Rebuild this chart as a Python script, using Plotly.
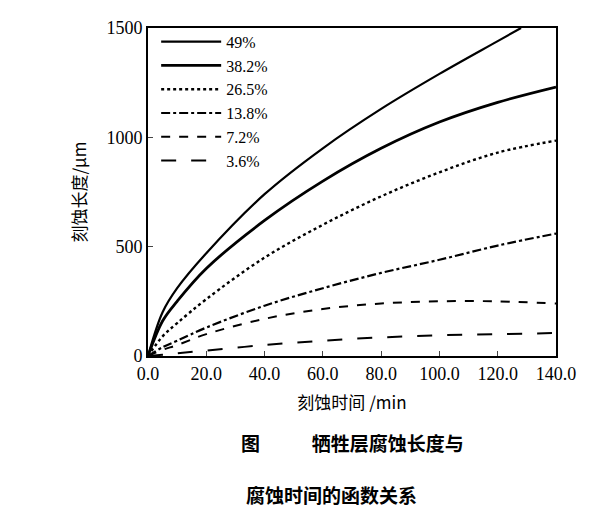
import plotly.graph_objects as go

# 刻蚀时间 (min) and 刻蚀长度 (um)
t = [0, 5, 10, 20, 40, 60, 80, 100, 120, 140]
t49 = [0, 5, 10, 20, 40, 60, 80, 100, 120, 128]
len_49 = [0, 200, 310, 470, 740, 950, 1130, 1290, 1440, 1500]
len_382 = [0, 160, 250, 400, 620, 800, 950, 1070, 1160, 1230]
len_265 = [0, 90, 150, 260, 450, 600, 730, 840, 930, 985]
len_138 = [0, 40, 70, 130, 230, 310, 380, 440, 505, 560]
len_72 = [0, 28, 50, 100, 170, 215, 240, 250, 250, 240]
len_36 = [0, 6, 12, 25, 50, 70, 85, 95, 100, 105]

series = [
    ("49%", t49, len_49, "solid", 2.2),
    ("38.2%", t, len_382, "solid", 2.8),
    ("26.5%", t, len_265, "dot", 2.4),
    ("13.8%", t, len_138, "dashdot", 2.2),
    ("7.2%", t, len_72, "dash", 2),
    ("3.6%", t, len_36, "longdash", 2),
]

fig = go.Figure()
for name, x, y, dash, w in series:
    fig.add_trace(go.Scatter(x=x, y=y, name=name, mode="lines", line_shape="spline",
                             line=dict(color="black", dash=dash, width=w)))

serif = "Liberation Serif"
cjk = "Noto Sans CJK SC"
fig.update_layout(
    width=615, height=510, margin=dict(l=140, r=67, t=10, b=162),
    plot_bgcolor="white", paper_bgcolor="white",
    font=dict(family=serif, size=18, color="black"),
    legend=dict(x=0.02, y=1.01, bgcolor="rgba(0,0,0,0)", font=dict(size=16),
                tracegroupgap=0, itemwidth=60),
    xaxis=dict(range=[0, 140], tickvals=[0, 20, 40, 60, 80, 100, 120, 140],
               ticktext=["0.0", "20.0", "40.0", "60.0", "80.0", "100.0", "120.0", "140.0"],
               showline=True, mirror=True, linecolor="black", linewidth=2,
               ticks="inside", showgrid=False, zeroline=False,
               title=dict(text="刻蚀时间 /min", font=dict(family=cjk, size=17))),
    yaxis=dict(range=[0, 1500], tickvals=[0, 500, 1000, 1500],
               showline=True, mirror=True, linecolor="black", linewidth=2,
               ticks="inside", showgrid=False, zeroline=False,
               title=dict(text="刻蚀长度/μm", font=dict(family=cjk, size=17))),
)
fig.add_annotation(text="<b>图            牺牲层腐蚀长度与</b>", x=0.5, y=-0.31, xref="paper", yref="paper",
                   showarrow=False, font=dict(family=cjk, size=19))
fig.add_annotation(text="<b>腐蚀时间的函数关系</b>", x=0.45, y=-0.47, xref="paper", yref="paper",
                   showarrow=False, font=dict(family=cjk, size=19))
fig.write_html("out.html")
